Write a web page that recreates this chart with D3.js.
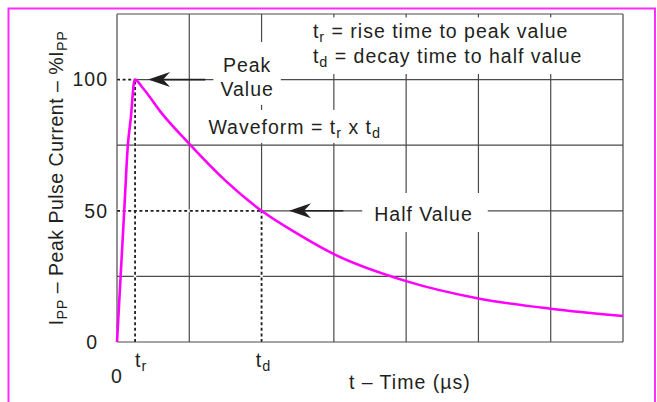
<!DOCTYPE html>
<html>
<head>
<meta charset="utf-8">
<script src="https://cdn.jsdelivr.net/npm/d3@7"></script>
<style>
  body { margin: 0; background: #fff; }
  svg text { font-family: "Liberation Sans", Arial, Helvetica, sans-serif; fill: #231f20; font-size: 19.5px; letter-spacing: 1px; }
  svg .ytitle text { letter-spacing: 0.5px; }
</style>
</head>
<body>
<div id="chart"></div>
<script>
// waveform: t in grid divisions, current in % of Ipp
const riseT = [0, 0.05, 0.1, 0.15, 0.19, 0.245];
const riseI = [0, 25, 50, 75, 85, 100];
const decayT = [0.36, 0.6, 1, 1.5, 2, 2.5, 3, 4, 5, 6, 7];
const decayI = [96.7, 87.8, 75.5, 61.5, 50, 41.2, 33.5, 23.2, 16.6, 12.7, 9.9];

const xGrid = [0, 1, 2, 3, 4, 5, 6, 7];
const yGrid = [0, 25, 50, 75, 100, 125];
const yTicks = [0, 50, 100];
const tRise = 0.25;   // t_r
const tDecay = 2;     // t_d

const width = 657;
const height = 402;
const margin = { top: 14, right: 34, bottom: 60, left: 117 };

const svg = d3.select('#chart')
  .append('svg')
  .attr('width', width)
  .attr('height', height);

// magenta frame (open at the bottom)
svg.append('path')
  .attr('d', `M8.5,${height + 5}V8.5H655V${height + 5}`)
  .attr('fill', 'none')
  .attr('stroke', '#ff2bff')
  .attr('stroke-width', 2);

const x = d3.scaleLinear().domain([0, 7]).range([margin.left, width - margin.right]);
const y = d3.scaleLinear().domain([0, 125]).range([height - margin.bottom, margin.top]);

// grid
const grid = svg.append('g').attr('stroke', '#4a4a4a').attr('stroke-width', 1.2);
grid.selectAll('.vx')
  .data(xGrid)
  .join('line')
  .attr('x1', (d) => x(d)).attr('x2', (d) => x(d))
  .attr('y1', y(0)).attr('y2', y(125));
grid.selectAll('.hy')
  .data(yGrid)
  .join('line')
  .attr('x1', x(0)).attr('x2', x(7))
  .attr('y1', (d) => y(d)).attr('y2', (d) => y(d));

// y tick labels
const yAxis = svg.append('g')
  .attr('transform', `translate(${x(0)},0)`)
  .call(d3.axisLeft(y).tickValues(yTicks).tickSize(0).tickPadding(9));
yAxis.select('.domain').remove();
yAxis.selectAll('text')
  .attr('font-family', null).attr('font-size', null).attr('fill', '#231f20')
  .attr('dx', (d) => (d === 0 ? -10 : 0));

// text helper for runs with subscripts
function rich(g, parts, px, py, anchor) {
  const t = g.append('text').attr('x', px).attr('y', py).attr('text-anchor', anchor || 'start');
  let low = false;
  parts.forEach((p) => {
    const sub = Array.isArray(p);
    const s = sub ? p[0] : p;
    const ts = t.append('tspan').text(s);
    if (sub) {
      ts.attr('font-size', '0.74em').attr('dy', low ? 0 : 4);
      low = true;
    } else if (low) {
      ts.attr('dy', -4);
      low = false;
    }
  });
  return t;
}

// white boxes behind annotation blocks
function boxed(build, pad) {
  const g = svg.append('g');
  const rect = g.append('rect').attr('fill', '#fff');
  build(g);
  const bb = g.node().getBBox();
  rect.attr('x', bb.x - pad[3]).attr('y', bb.y - pad[0])
    .attr('width', bb.width + pad[1] + pad[3])
    .attr('height', bb.height + pad[0] + pad[2]);
  return g;
}

const notes = svg.append('g');

// reference dashed lines
const dashes = [
  [[0, 100], [0.245, 100]],
  [[tRise, 0], [tRise, 100]],
  [[0, 50], [tDecay, 50]],
  [[tDecay, 0], [tDecay, 50]]
];
notes.selectAll('.under')
  .data(dashes)
  .join('line')
  .attr('x1', (d) => x(d[0][0])).attr('y1', (d) => y(d[0][1]))
  .attr('x2', (d) => x(d[1][0])).attr('y2', (d) => y(d[1][1]))
  .attr('stroke', '#fff').attr('stroke-width', 2.5);
notes.selectAll('.dash')
  .data(dashes)
  .join('line')
  .attr('x1', (d) => x(d[0][0])).attr('y1', (d) => y(d[0][1]))
  .attr('x2', (d) => x(d[1][0])).attr('y2', (d) => y(d[1][1]))
  .attr('stroke', '#231f20').attr('stroke-width', 1.8)
  .attr('stroke-dasharray', '3,2.6');

// label blocks
boxed((g) => {
  rich(g, ['t', ['r'], ' = rise time to peak value'], x(2.71), y(115.7));
  rich(g, ['t', ['d'], ' = decay time to half value'], x(2.71), y(106.3));
}, [3, 20, 4, 7]);

boxed((g) => {
  rich(g, ['Peak'], x(1.8), y(102.9), 'middle');
  rich(g, ['Value'], x(1.8), y(93.8), 'middle');
}, [12, 7, 5, 7]);

boxed((g) => {
  rich(g, ['Waveform = t', ['r'], ' x t', ['d']], x(1.265), y(79.3));
}, [6, 6, 2, 6]);

boxed((g) => {
  rich(g, ['Half Value'], x(4.24), y(46.1), 'middle');
}, [10, 15, 7, 12]);

// arrows
const arrows = [
  { tip: [0.43, 100], tail: 1.22 },
  { tip: [2.38, 50], tail: 3.13 }
];
const ag = svg.append('g');
arrows.forEach((a) => {
  const tx = x(a.tip[0]);
  const ty = y(a.tip[1]);
  ag.append('line')
    .attr('x1', tx + 14).attr('x2', x(a.tail))
    .attr('y1', ty).attr('y2', ty)
    .attr('stroke', '#231f20').attr('stroke-width', 1.6);
  ag.append('path')
    .attr('d', `M${tx},${ty}L${tx + 22},${ty - 7.5}L${tx + 15},${ty}L${tx + 22},${ty + 7.5}Z`)
    .attr('fill', '#231f20');
});

// pulse curve
const pulse = riseT.map((t, i) => [t, riseI[i]])
  .concat(decayT.map((t, i) => [t, decayI[i]]));
svg.append('path')
  .datum(pulse)
  .attr('fill', 'none')
  .attr('stroke', '#ff00ff')
  .attr('stroke-width', 2.6)
  .attr('stroke-linejoin', 'round')
  .attr('d', d3.line().x((d) => x(d[0])).y((d) => y(d[1])).curve(d3.curveMonotoneX));

// x labels
const xl = svg.append('g');
rich(xl, ['0'], x(0), 383, 'middle');
rich(xl, ['t', ['r']], x(tRise) + 6, 367, 'middle');
rich(xl, ['t', ['d']], x(tDecay) + 2, 367, 'middle');
rich(xl, ['t – Time (µs)'], x(4.05), 389, 'middle');

// y title
const yt = svg.append('g').attr('class', 'ytitle')
  .attr('transform', `translate(63,${(y(0) + y(125)) / 2}) rotate(-90)`);
rich(yt, ['I', ['PP'], ' – Peak Pulse Current – %I', ['PP']], 0, 0, 'middle');
</script>
</body>
</html>
